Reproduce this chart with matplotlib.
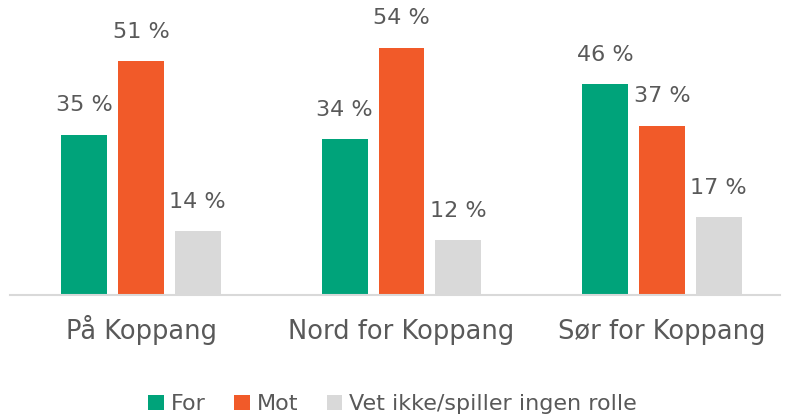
import matplotlib
matplotlib.use('Agg')
import matplotlib.pyplot as plt
import numpy as np

kategorier = ['På Koppang', 'Nord for Koppang', 'Sør for Koppang']
serier = ['For', 'Mot', 'Vet ikke/spiller ingen rolle']
verdi_for = [35, 34, 46]
verdi_mot = [51, 54, 37]
verdi_vet_ikke = [14, 12, 17]
farger = ['#00A37A', '#F15A29', '#D9D9D9']

plt.rcParams['font.family'] = ['DejaVu Sans']
tekstfarge = '#595959'

fig = plt.figure(figsize=(7.85, 4.17), dpi=100)
ax = fig.add_axes([10 / 785, 0.2926, 770 / 785, 0.659])

x = np.arange(len(kategorier))
bredde = 0.176
avstand = 0.218
for i, (navn, verdier) in enumerate(zip(serier, [verdi_for, verdi_mot, verdi_vet_ikke])):
    pos = x + (i - 1) * avstand
    bars = ax.bar(pos, verdier, width=bredde, color=farger[i], label=navn)
    for b, v in zip(bars, verdier):
        ax.text(b.get_x() + b.get_width() / 2, v + 4.2, f'{v} %',
                ha='center', va='bottom', fontsize=16, color=tekstfarge)

ax.set_xlim(-0.503, 2.453)
ax.set_ylim(0, 60)
for s in ['top', 'right', 'left']:
    ax.spines[s].set_visible(False)
ax.spines['bottom'].set_color('#D9D9D9')
ax.spines['bottom'].set_linewidth(1.5)
ax.set_yticks([])
ax.set_xticks(x)
# baseline-justert så "å" ikke skyver teksten ned
ax.set_xticklabels(kategorier, fontsize=18.5, color=tekstfarge, va='baseline')
ax.tick_params(axis='x', length=0, pad=32)

fig.legend(loc='center', bbox_to_anchor=(0.5, 0.03), ncol=3, frameon=False,
           fontsize=16, labelcolor=tekstfarge, handlelength=0.7, handleheight=0.7,
           handletextpad=0.3, columnspacing=1.3)

fig.savefig('out.png', dpi=100)
